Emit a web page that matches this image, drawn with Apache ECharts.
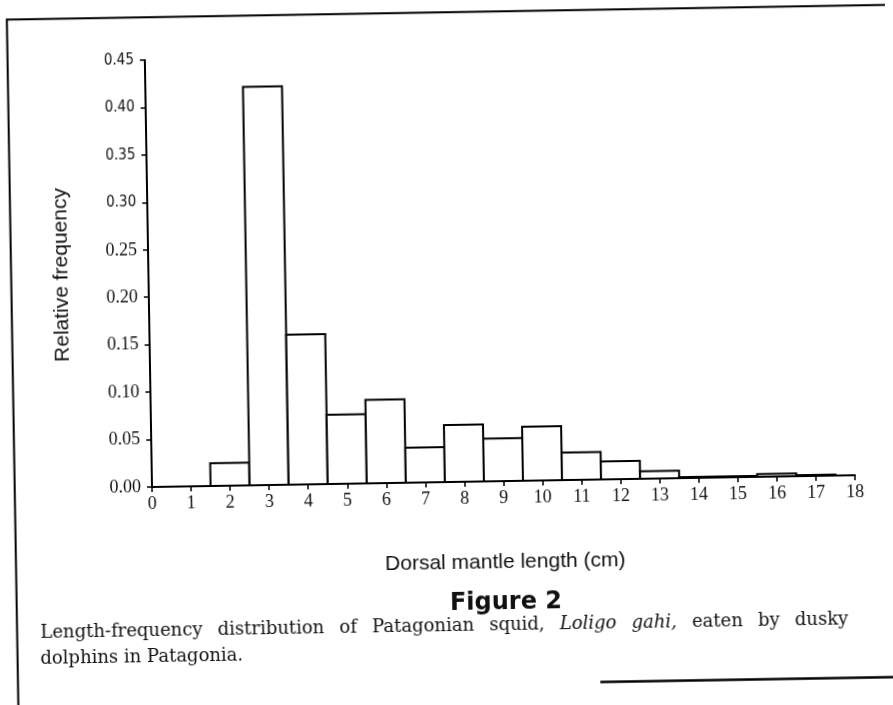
<!DOCTYPE html>
<html>
<head>
<meta charset="utf-8">
<title>Figure 2</title>
<script src="https://cdn.jsdelivr.net/npm/echarts@6/dist/echarts.min.js"></script>
<style>
  html, body { margin: 0; padding: 0; background: #fff; }
  /* the scanned page is slightly skewed, so the whole figure is turned a little */
  #fig { width: 893px; height: 705px; transform: rotate(-0.96deg); transform-origin: 152px 487px; }
</style>
</head>
<body>
<div id="fig"></div>
<script>
// dorsal mantle length classes (cm) and their relative frequency
var lengthCm = [0, 1, 2, 3, 4, 5, 6, 7, 8, 9, 10, 11, 12, 13, 14, 15, 16, 17, 18];
var relFreq = [0, 0, 0.024, 0.42, 0.158, 0.073, 0.088, 0.037, 0.060, 0.045, 0.057, 0.029, 0.019, 0.008, 0.001, 0.001, 0.003, 0.001, 0];
var yMax = 0.45;
var yStep = 0.05;
var xMax = 18;

var sansLabels = [0.30, 0.35, 0.40, 0.45]; // these look typeset in a sans face on the scan

// caption, first line is justified so it is laid out word by word
var captionWords = ['Length-frequency', 'distribution', 'of', 'Patagonian', 'squid,', 'Loligo', 'gahi,', 'eaten', 'by', 'dusky'];
var captionItalic = [false, false, false, false, false, true, true, false, false, false];
var captionLine2 = 'dolphins in Patagonia.';

var barData = [];
for (var i = 0; i < lengthCm.length; i++) {
    barData.push([lengthCm[i], relFreq[i]]);
}

var capFont = 18;
var capLeft = 38, capRight = 846;
var ctx = document.createElement('canvas').getContext('2d');
function wordWidth(w, it) {
    ctx.font = (it ? 'italic ' : '') + capFont + 'px "DejaVu Serif"';
    return ctx.measureText(w).width;
}
var widths = captionWords.map(function (w, k) { return wordWidth(w, captionItalic[k]); });
var total = widths.reduce(function (a, b) { return a + b; }, 0);
var gap = (capRight - capLeft - total) / (captionWords.length - 1);

var graphics = [
    // page frame
    { type: 'line', shape: { x1: 14.7, y1: 17.3, x2: 905, y2: 17.3 }, style: { stroke: '#000', lineWidth: 2 } },
    { type: 'line', shape: { x1: 14.7, y1: 16.3, x2: 14.7, y2: 730 }, style: { stroke: '#000', lineWidth: 2 } },
    { type: 'line', shape: { x1: 597, y1: 689.5, x2: 905, y2: 689.5 }, style: { stroke: '#000', lineWidth: 2.5 } },
    {
        type: 'text', x: 65, y: 273.5, rotation: Math.PI / 2,
        style: { text: 'Relative frequency', fontFamily: 'Liberation Sans', fontSize: 21, fill: '#111', align: 'center', verticalAlign: 'middle' }
    },
    {
        type: 'text', x: 504, y: 568,
        style: { text: 'Dorsal mantle length (cm)', fontFamily: 'Liberation Sans', fontSize: 21, fill: '#111', align: 'center', verticalAlign: 'middle' }
    },
    {
        type: 'text', x: 504, y: 609,
        style: { text: 'Figure 2', fontFamily: 'DejaVu Sans', fontWeight: 'bold', fontSize: 24, fill: '#111', align: 'center', verticalAlign: 'middle' }
    },
    {
        type: 'text', x: 37.5, y: 657,
        style: { text: captionLine2, fontFamily: 'DejaVu Serif', fontSize: capFont, fill: '#111', align: 'left', verticalAlign: 'middle' }
    }
];
var cx = capLeft;
for (var k = 0; k < captionWords.length; k++) {
    graphics.push({
        type: 'text', x: cx, y: 631,
        style: {
            text: captionWords[k], fontFamily: 'DejaVu Serif', fontSize: capFont,
            fontStyle: captionItalic[k] ? 'italic' : 'normal',
            fill: '#111', align: 'left', verticalAlign: 'middle'
        }
    });
    cx += widths[k] + gap;
}

var chart = echarts.init(document.getElementById('fig'));
var option = {
    animation: false,
    backgroundColor: '#fff',
    grid: {
        left: 152,
        right: 38,
        top: 60,
        bottom: 218
    },
    xAxis: {
        type: 'value',
        min: 0,
        max: xMax,
        interval: 1,
        splitLine: { show: false },
        axisLine: { onZero: false, lineStyle: { color: '#000', width: 2 } },
        axisTick: { length: 5, lineStyle: { color: '#000', width: 1.5 } },
        axisLabel: {
            margin: 8,
            color: '#111',
            fontFamily: 'Liberation Serif',
            fontSize: 18,
            showMinLabel: true,
            showMaxLabel: true
        }
    },
    yAxis: {
        type: 'value',
        min: 0,
        max: yMax,
        interval: yStep,
        splitLine: { show: false },
        axisLine: { show: true, lineStyle: { color: '#000', width: 2 } },
        axisTick: { show: true, length: 5, lineStyle: { color: '#000', width: 1.5 } },
        axisLabel: {
            margin: 11,
            color: '#111',
            fontFamily: 'Liberation Serif',
            fontSize: 18,
            formatter: function (v) {
                var s = v.toFixed(2);
                for (var k = 0; k < sansLabels.length; k++) {
                    if (Math.abs(v - sansLabels[k]) < 1e-6) return '{s|' + s + '}';
                }
                return '{r|' + s + '}';
            },
            rich: {
                r: { fontFamily: 'Liberation Serif', fontSize: 18, color: '#111' },
                s: { fontFamily: 'DejaVu Sans Condensed', fontSize: 15, color: '#111' }
            }
        }
    },
    series: [
        {
            type: 'custom',
            data: barData,
            renderItem: function (params, api) {
                var v = api.value(1);
                if (!v) return null;
                var x = api.value(0);
                var topLeft = api.coord([x - 0.5, v]);
                var bottomRight = api.coord([x + 0.5, 0]);
                return {
                    type: 'rect',
                    shape: {
                        x: topLeft[0],
                        y: topLeft[1],
                        width: bottomRight[0] - topLeft[0],
                        height: bottomRight[1] - topLeft[1]
                    },
                    style: { fill: '#fff', stroke: '#000', lineWidth: 2 }
                };
            }
        }
    ],
    graphic: graphics
};
chart.setOption(option);
</script>
</body>
</html>
